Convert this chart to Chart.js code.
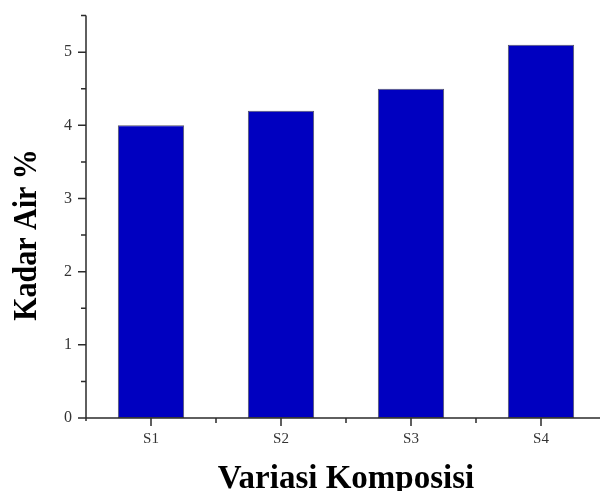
<!DOCTYPE html>
<html>
<head>
<meta charset="utf-8">
<script src="https://cdn.jsdelivr.net/npm/chart.js@4/dist/chart.umd.min.js"></script>
<style>
  html, body { margin: 0; padding: 0; background: #fff; overflow: hidden; }
  canvas { display: block; }
</style>
</head>
<body>
<canvas id="chart" width="607" height="491"></canvas>
<script>
// 조성 변화에 따른 수분 함량
const categories = ['S1', 'S2', 'S3', 'S4'];
const kadarAir = [4.0, 4.2, 4.5, 5.1];
const yTicks = [0, 1, 2, 3, 4, 5];

const xTitle = 'Variasi Komposisi';
const yTitle = 'Kadar Air %';

const AXIS = '#2b2b2b';
const SERIF = '"Liberation Serif", "Times New Roman", serif';

// Origin 스타일 축: 바깥쪽 큰 눈금/작은 눈금 + 축 제목
const axisPlugin = {
  id: 'originAxes',
  afterDraw(chart) {
    const { ctx, chartArea: a } = chart;
    const x = chart.scales.x, y = chart.scales.y;
    ctx.save();
    ctx.strokeStyle = AXIS;
    ctx.lineWidth = 1.5;
    ctx.beginPath();
    // 축선
    ctx.moveTo(a.left, a.top); ctx.lineTo(a.left, a.bottom + 3);
    ctx.moveTo(a.left - 8, a.bottom); ctx.lineTo(a.right, a.bottom);
    // y 눈금 (0.5 간격, 정수는 길게)
    for (let v = 0; v <= y.max + 1e-9; v += 0.5) {
      const py = y.getPixelForValue(v);
      const len = Number.isInteger(v) ? 8 : 5;
      ctx.moveTo(a.left - len, py); ctx.lineTo(a.left, py);
    }
    // x 눈금: 범주 중심은 길게, 경계는 짧게
    const half = (x.getPixelForValue(1) - x.getPixelForValue(0)) / 2;
    categories.forEach((_, i) => {
      const px = x.getPixelForValue(i);
      ctx.moveTo(px, a.bottom); ctx.lineTo(px, a.bottom + 8);
      ctx.moveTo(px + half, a.bottom); ctx.lineTo(px + half, a.bottom + 5);
    });
    ctx.stroke();

    ctx.fillStyle = '#000';
    ctx.textAlign = 'center';
    ctx.textBaseline = 'alphabetic';
    ctx.font = 'bold 33px ' + SERIF;
    ctx.fillText(xTitle, (a.left + a.right) / 2, 488);
    // 세로 제목은 글자 높이 방향으로 약간 늘림
    ctx.font = 'bold 30px ' + SERIF;
    ctx.translate(36, 235);
    ctx.rotate(-Math.PI / 2);
    ctx.scale(1, 1.12);
    ctx.fillText(yTitle, 0, 0);
    ctx.restore();
  },
};

new Chart(document.getElementById('chart'), {
  type: 'bar',
  data: {
    labels: categories,
    datasets: [{
      data: kadarAir,
      backgroundColor: '#0000c0',
      borderColor: '#555566',
      borderWidth: 1,
      borderSkipped: false,
      barPercentage: 0.51,
      categoryPercentage: 1,
    }],
  },
  options: {
    responsive: false,
    animation: false,
    layout: { padding: { top: 8, right: 1, left: 0, bottom: 0 } },
    plugins: { legend: { display: false }, tooltip: { enabled: false } },
    scales: {
      x: {
        grid: { display: false },
        border: { display: false },
        ticks: { color: '#333', padding: 4, font: { family: SERIF, size: 15 } },
        afterFit(scale) { scale.height = 73; },
      },
      y: {
        min: 0,
        max: 5.5,
        afterBuildTicks(scale) { scale.ticks = yTicks.map(v => ({ value: v })); },
        grid: { display: false },
        border: { display: false },
        ticks: { color: '#333', padding: 6, font: { family: SERIF, size: 16 } },
        afterFit(scale) { scale.width = 86; },
      },
    },
  },
  plugins: [axisPlugin],
});
</script>
</body>
</html>
